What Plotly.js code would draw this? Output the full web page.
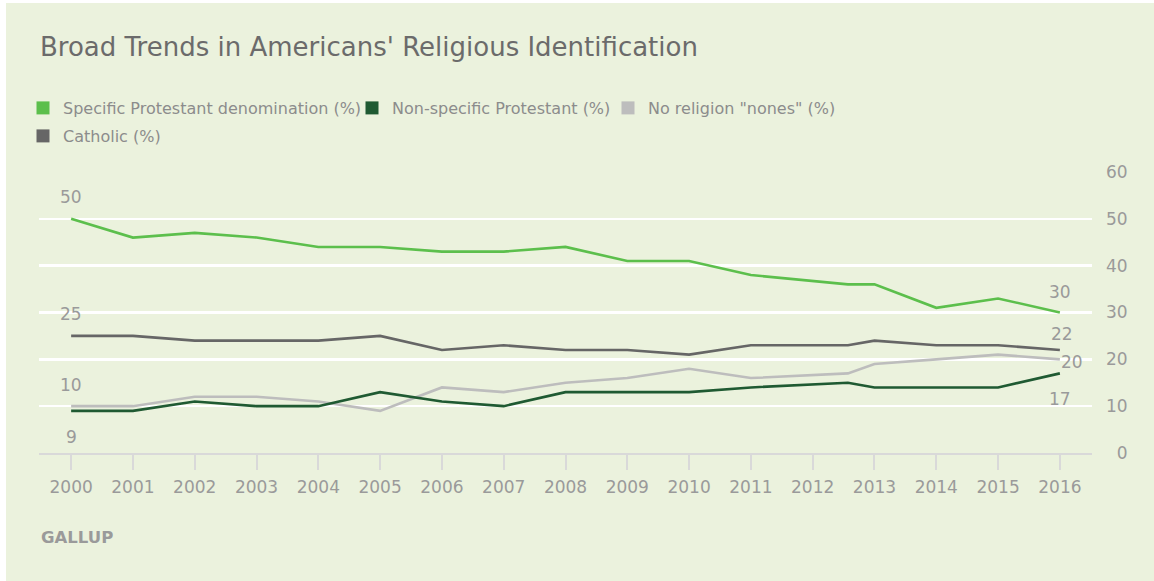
<!DOCTYPE html>
<html>
<head>
<meta charset="utf-8">
<script src="https://cdn.plot.ly/plotly-3.0.1.min.js"></script>
<style>
  html, body { margin: 0; padding: 0; background: #ffffff; }
  #chart { position: absolute; left: 6px; top: 3px; width: 1148px; height: 578px; }
</style>
</head>
<body>
<div id="chart"></div>
<script>
// ---- data ----
const years = [2000, 2001, 2002, 2003, 2004, 2005, 2006, 2007, 2008, 2009, 2010, 2011, 2012.57, 2013, 2014, 2015, 2016];
const specificProtestant = [50, 46, 47, 46, 44, 44, 43, 43, 44, 41, 41, 38, 36, 36, 31, 33, 30];
const nonSpecificProtestant = [9, 9, 11, 10, 10, 13, 11, 10, 13, 13, 13, 14, 15, 14, 14, 14, 17];
const noReligion = [10, 10, 12, 12, 11, 9, 14, 13, 15, 16, 18, 16, 17, 19, 20, 21, 20];
const catholic = [25, 25, 24, 24, 24, 25, 22, 23, 22, 22, 21, 23, 23, 24, 23, 23, 22];
const seriesNames = ['Specific Protestant denomination (%)', 'Non-specific Protestant (%)', 'No religion "nones" (%)', 'Catholic (%)'];
const xTicks = [2000, 2001, 2002, 2003, 2004, 2005, 2006, 2007, 2008, 2009, 2010, 2011, 2012, 2013, 2014, 2015, 2016];
const yTicks = [0, 10, 20, 30, 40, 50, 60];
const titleText = "Broad Trends in Americans' Religious Identification";
const sourceText = 'GALLUP';

// ---- styles ----
const colors = ['#5cbf4c', '#1f5a32', '#bdbdbd', '#666666'];
const seriesData = [specificProtestant, nonSpecificProtestant, noReligion, catholic];
const labelColor = '#9a9a9a';
const font = '"DejaVu Sans", Verdana, sans-serif';
// legend entry positions (container px): [x, y]
const legendPos = [[17, 105], [346, 105], [602, 105], [17, 133]];
const legendIds = ['legend', 'legend2', 'legend3', 'legend4'];

const traces = [];
// draw order: catholic, nones, nonspecific, specific
[3, 2, 1, 0].forEach(i => {
  traces.push({
    x: years, y: seriesData[i], type: 'scatter', mode: 'lines',
    line: { color: colors[i], width: 2.6 },
    showlegend: false, hoverinfo: 'x+y', name: seriesNames[i]
  });
});
// legend swatches
[0, 1, 2, 3].forEach(i => {
  traces.push({
    x: [null], y: [null], type: 'scatter', mode: 'markers',
    marker: { symbol: 'square', size: 13, color: colors[i] },
    name: seriesNames[i], legend: legendIds[i], showlegend: true
  });
});

function endLabel(series, idx, xs, ys) {
  return {
    x: years[idx], y: series[idx], text: String(series[idx]),
    xref: 'x', yref: 'y', showarrow: false,
    font: { family: font, size: 17, color: labelColor },
    xshift: xs, yshift: ys
  };
}
const last = years.length - 1;
const annotations = [
  endLabel(specificProtestant, 0, 0, 22),
  endLabel(catholic, 0, 0, 22),
  endLabel(noReligion, 0, 0, 21),
  endLabel(nonSpecificProtestant, 0, 0, -26),
  endLabel(specificProtestant, last, 0, 21),
  endLabel(catholic, last, 2, 16),
  endLabel(noReligion, last, 12, -3),
  endLabel(nonSpecificProtestant, last, 0, -26),
  {
    text: '<b>' + sourceText + '</b>', xref: 'paper', yref: 'paper', x: 0, y: -0.299,
    xanchor: 'left', yanchor: 'middle', xshift: 0, showarrow: false,
    font: { family: font, size: 16.5, color: '#9a9a9a' }
  }
];

const legendBase = {
  orientation: 'h', xref: 'container', yref: 'container', xanchor: 'left', yanchor: 'middle',
  bgcolor: 'rgba(0,0,0,0)', borderwidth: 0,
  font: { family: font, size: 16, color: '#8c8c8c' },
  itemclick: false, itemdoubleclick: false, tracegroupgap: 0
};

const layout = {
  width: 1148, height: 578,
  paper_bgcolor: '#ebf2dd', plot_bgcolor: '#ebf2dd',
  margin: { l: 33, r: 62, t: 169, b: 128, pad: 0 },
  title: {
    text: titleText, xref: 'container', yref: 'container', x: 34 / 1148, xanchor: 'left',
    y: 1 - 44 / 578, yanchor: 'middle',
    font: { family: font, size: 26, color: '#6b6b6b' }
  },
  showlegend: true,
  xaxis: {
    type: 'linear', range: [1999.48, 2016.52], tickvals: xTicks, ticktext: xTicks.map(String),
    showgrid: false, zeroline: false, showline: true, linecolor: '#d9d9d9', linewidth: 2,
    ticks: 'outside', ticklen: 15, tickwidth: 2, tickcolor: '#d9d9d9', ticklabelstandoff: 3,
    tickfont: { family: font, size: 17, color: labelColor }, fixedrange: true
  },
  yaxis: {
    side: 'right', range: [0, 60], tickvals: yTicks,
    ticktext: yTicks.map(v => (v < 10 ? '\u2007' : '') + v),
    showgrid: true, gridcolor: '#ffffff', gridwidth: 2.5, zeroline: false, showline: false,
    ticks: '', ticklabelstandoff: 13,
    tickfont: { family: font, size: 17, color: labelColor }, fixedrange: true
  },
  annotations: annotations
};
legendIds.forEach((id, i) => {
  layout[id] = Object.assign({}, legendBase, { x: legendPos[i][0] / 1148, y: 1 - legendPos[i][1] / 578 });
});

Plotly.newPlot('chart', traces, layout, { displayModeBar: false, staticPlot: true });
</script>
</body>
</html>
